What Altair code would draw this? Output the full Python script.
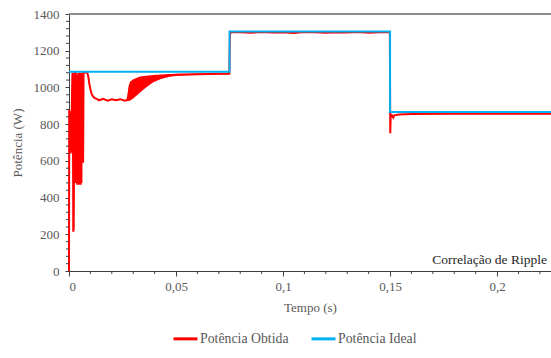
import altair as alt
import pandas as pd

# ---- data ----
ideal_t = [0.0, 0.075, 0.075, 0.15, 0.15, 0.2252]
ideal_p = [1085, 1085, 1305, 1305, 866, 866]

obt_t = [0.0, 0.00005, 0.0001, 0.0002, 0.0003, 0.0004, 0.0005, 0.0006, 0.0007, 0.0008,
         0.0009, 0.0010, 0.0012, 0.0014, 0.0016, 0.0017, 0.0019, 0.0020, 0.0022, 0.0024,
         0.0026, 0.0028, 0.0030, 0.0032, 0.0034, 0.0036, 0.0038, 0.0040, 0.0042, 0.0044,
         0.0046, 0.0048, 0.0050, 0.0052, 0.0054, 0.0056, 0.0058, 0.0060, 0.0062, 0.0064,
         0.0066, 0.0068, 0.0072, 0.0080, 0.0086, 0.0090, 0.0095, 0.0100, 0.0105, 0.0110,
         0.0115, 0.0120, 0.0130, 0.0140, 0.0160, 0.0180, 0.0200, 0.0220, 0.0240, 0.0260,
         0.0272, 0.0285, 0.0300, 0.0332, 0.0360, 0.0394, 0.0430, 0.0470, 0.0510, 0.0550,
         0.0600, 0.0650, 0.0706, 0.0749, 0.0752, 0.0760, 0.0800, 0.0850, 0.0900, 0.0950,
         0.1000, 0.1050, 0.1100, 0.1150, 0.1200, 0.1250, 0.1300, 0.1350, 0.1400, 0.1450,
         0.1499, 0.1501, 0.1503, 0.1508, 0.1515, 0.1520, 0.1540, 0.1600, 0.1800, 0.2000,
         0.2252]
obt_p = [0, 450, 880, 700, 870, 650, 860, 660, 850, 640,
         840, 650, 800, 960, 1080, 1060, 600, 214, 230, 700,
         1080, 1080, 480, 1080, 600, 1030, 470, 1070, 475, 1080,
         470, 1080, 475, 1080, 470, 1080, 480, 1080, 590, 1080,
         590, 1080, 1082, 1082, 1078, 1060, 1020, 990, 968, 955,
         948, 942, 938, 930, 938, 928, 935, 930, 936, 928,
         932, 975, 995, 1018, 1034, 1050, 1060, 1066, 1069, 1071,
         1072, 1073, 1074, 1075, 1296, 1300, 1301, 1298, 1302, 1299,
         1301, 1297, 1302, 1300, 1298, 1301, 1299, 1302, 1298, 1301,
         1300, 750, 845, 850, 836, 848, 852, 855, 856, 856,
         856]

band_t = [0.0270, 0.0278, 0.0285, 0.0300, 0.0332, 0.0360, 0.0394, 0.0430, 0.0470,
          0.0510, 0.0550, 0.0600, 0.0650, 0.0706, 0.0750]
band_lo = [925, 926, 928, 940, 972, 1000, 1028, 1046, 1058, 1063, 1066, 1068, 1069, 1070, 1072]
band_hi = [935, 1005, 1031, 1045, 1059, 1064, 1068, 1071, 1073, 1074, 1075, 1076, 1076, 1077, 1078]

x_major = [0, 0.05, 0.1, 0.15, 0.2]
x_minor = [0.01, 0.02, 0.03, 0.04, 0.06, 0.07, 0.08, 0.09, 0.11, 0.12, 0.13, 0.14,
           0.16, 0.17, 0.18, 0.19, 0.21, 0.22]
y_major = [0, 200, 400, 600, 800, 1000, 1200, 1400]
y_minor = [v for v in range(40, 1400, 40) if v % 200 != 0]

series_names = ["Potência Obtida", "Potência Ideal"]
series_colors = ["#ff0000", "#00b0f0"]

FONT = "Liberation Serif"
GRAY = "#595959"
W, H = 482, 257

obt = pd.DataFrame({"t": obt_t, "p": obt_p, "i": range(len(obt_t)), "s": series_names[0]})
ide = pd.DataFrame({"t": ideal_t, "p": ideal_p, "i": range(len(ideal_t)), "s": series_names[1]})
band = pd.DataFrame({"t": band_t, "lo": band_lo, "hi": band_hi})

xscale = alt.Scale(domain=[0, 0.2252], nice=False, zero=False)
yscale = alt.Scale(domain=[0, 1400], nice=False)
cscale = alt.Scale(domain=series_names, range=series_colors)

xaxis = alt.Axis(values=x_major, format=".2~f", labelExpr="replace(datum.label, '.', ',')",
                 title="Tempo  (s)", grid=False, domainColor="#404040", tickColor="#404040",
                 tickSize=5, labelPadding=4, titlePadding=8, labelOverlap=False,
                 labelFont=FONT, titleFont=FONT)
yaxis = alt.Axis(values=y_major, format="d", title="Potência  (W)", grid=False,
                 domainColor="#404040", tickColor="#404040", tickSize=4, labelPadding=6,
                 titlePadding=9, labelOverlap=False, labelFont=FONT, titleFont=FONT)

band_layer = alt.Chart(band).mark_area(color="#ff0000", opacity=1).encode(
    x=alt.X("t:Q", scale=xscale, axis=xaxis),
    y=alt.Y("lo:Q", scale=yscale, axis=yaxis),
    y2="hi:Q",
)

obt_layer = alt.Chart(obt).mark_line(strokeWidth=2).encode(
    x=alt.X("t:Q", scale=xscale, axis=xaxis),
    y=alt.Y("p:Q", scale=yscale, axis=yaxis),
    order="i:Q",
    color=alt.Color("s:N", scale=cscale, title=None),
)

ide_layer = alt.Chart(ide).mark_line(strokeWidth=2).encode(
    x=alt.X("t:Q", scale=xscale, axis=xaxis),
    y=alt.Y("p:Q", scale=yscale, axis=yaxis),
    order="i:Q",
    color=alt.Color("s:N", scale=cscale, title=None),
)

xminor = alt.Chart(pd.DataFrame({"t": x_minor})).mark_rule(color="#404040").encode(
    x=alt.X("t:Q", scale=xscale, axis=xaxis), y=alt.value(H), y2=alt.value(H + 3))
yminor = alt.Chart(pd.DataFrame({"p": y_minor})).mark_rule(color="#404040").encode(
    y=alt.Y("p:Q", scale=yscale, axis=yaxis), x=alt.value(-3), x2=alt.value(0))

top_line = alt.Chart(pd.DataFrame({"a": [0]})).mark_rule(color="#8c8c8c", strokeWidth=2).encode(
    x=alt.value(0), x2=alt.value(W), y=alt.value(0))

label = alt.Chart(pd.DataFrame({"txt": ["Correlação de Ripple"]})).mark_text(
    align="right", baseline="middle", font=FONT, fontSize=13.5, color="#262626").encode(
    x=alt.value(478), y=alt.value(246), text="txt:N")

chart = alt.layer(band_layer, obt_layer, ide_layer, xminor, yminor, top_line, label).properties(
    width=W, height=H,
    autosize=alt.AutoSizeParams(type="none"),
    padding={"left": 69, "top": 14, "right": 0, "bottom": 87},
).configure(font=FONT).configure_view(stroke=None).configure_axis(
    labelFontSize=13, titleFontSize=13, labelFont=FONT, titleFont=FONT,
    labelColor=GRAY, titleColor=GRAY, titleFontWeight="normal", labelOverlap=False,
).configure_legend(
    orient="none", legendX=103, legendY=311, direction="horizontal",
    symbolType="stroke", symbolSize=576, symbolStrokeWidth=3,
    labelFont=FONT, labelFontSize=13.8, labelColor=GRAY,
    columnPadding=16, labelOffset=1, padding=0,
)

chart.save("out.html", embed_options={"renderer": "svg", "actions": False})
